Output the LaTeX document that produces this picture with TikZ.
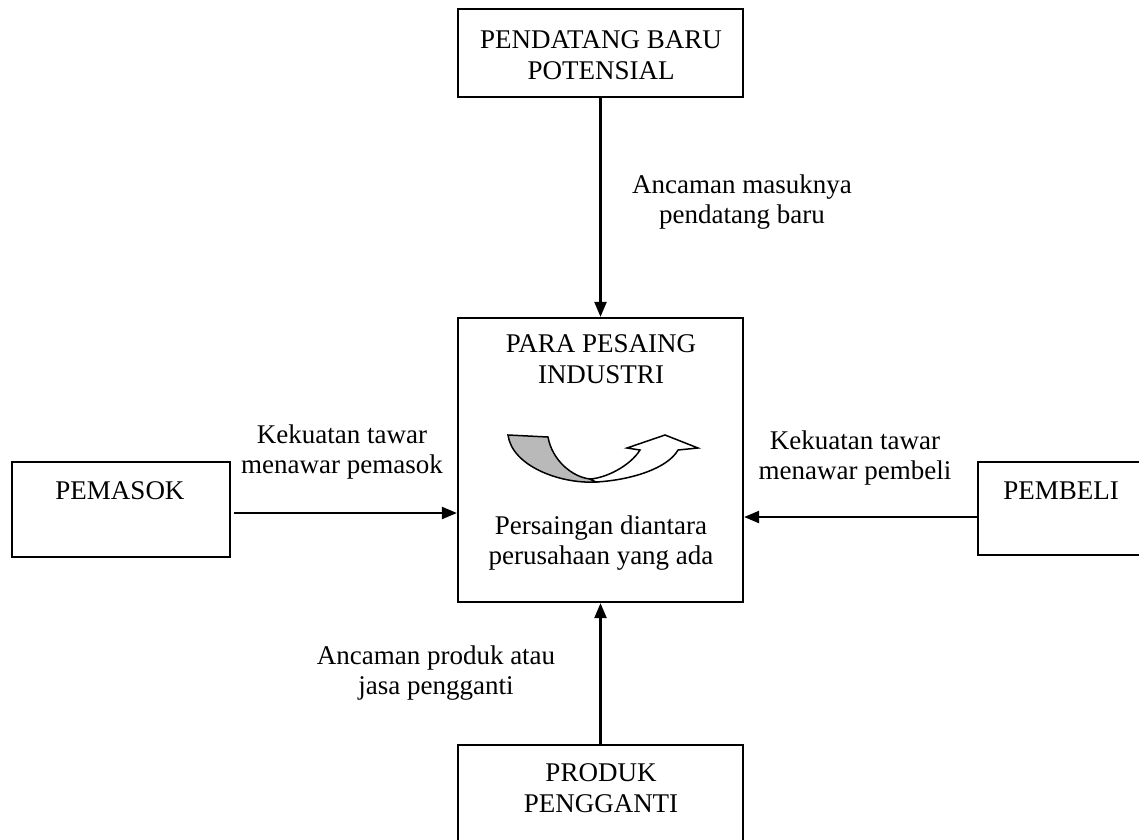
\documentclass[tikz,border=0pt]{standalone}
\usepackage{fontspec}
\setmainfont{Liberation Serif}
\usetikzlibrary{arrows.meta}
\begin{document}
\begin{tikzpicture}[x=1pt,y=-1pt,
  box/.style={draw,line width=2.2pt,inner sep=0pt},
  txt/.style={align=center,inner sep=0pt,font=\fontsize{27}{30.5}\selectfont},
  arr/.style={line width=2.2pt,-{Triangle[length=15pt,width=12pt]}}]
\useasboundingbox (0,0) rectangle (1139,839);
\clip (0,0) rectangle (1139,839);
\fill[white] (0,0) rectangle (1139,839);
% boxes
\node[box,minimum width=285pt,minimum height=88pt] (top) at (600.5,53) {};
\node[box,minimum width=285pt,minimum height=284pt] (center) at (600.5,460) {};
\node[box,minimum width=218pt,minimum height=95pt] (pemasok) at (121,509.5) {};
\node[box,minimum width=180pt,minimum height=93pt] (pembeli) at (1068,508.5) {};
\node[box,minimum width=285pt,minimum height=120pt] (bottom) at (600.5,805) {};
% box texts
\node[txt] (ttop) at (601,55) {PENDATANG BARU\\POTENSIAL};
\node[txt] (tcenter1) at (601,359) {PARA PESAING\\INDUSTRI};
\node[txt] (tcenter2) at (601,543) {Persaingan diantara\\perusahaan yang ada};
\node[txt] (tpemasok) at (120,491) {PEMASOK};
\node[txt] (tpembeli) at (1061,491) {PEMBELI};
\node[txt] (tbottom) at (601,788) {PRODUK\\PENGGANTI};
% connector labels
\node[txt] (lnew) at (742,202) {Ancaman masuknya\\pendatang baru};
\node[txt] (lsup) at (342,452) {Kekuatan tawar\\menawar pemasok};
\node[txt] (lbuy) at (855,458) {Kekuatan tawar\\menawar pembeli};
\node[txt] (lsub) at (436,673) {Ancaman produk atau\\jasa pengganti};
% connectors
\draw[arr] (top.south) -- (center.north);
\draw[arr] ([xshift=3pt]pemasok.east |- 0,513) -- (center.west |- 0,513);
\draw[arr] (pembeli.west |- 0,517) -- (center.east |- 0,517);
\draw[arr] (bottom.north) -- (center.south);
% rivalry curved arrow
\draw[line width=1.5pt,fill=gray!55]
  (508,435) .. controls (512,466) and (560,484) .. (596,482)
  -- (590,479) .. controls (572,477) and (552,460) .. (548,437) -- cycle;
\draw[line width=1.5pt,fill=white,line join=miter]
  (596,482) .. controls (632,480) and (668,468) .. (678,450)
  -- (698,448) -- (665,435) -- (627,448) -- (640,450)
  .. controls (630,466) and (606,478) .. (590,479) -- cycle;
\end{tikzpicture}
\end{document}
